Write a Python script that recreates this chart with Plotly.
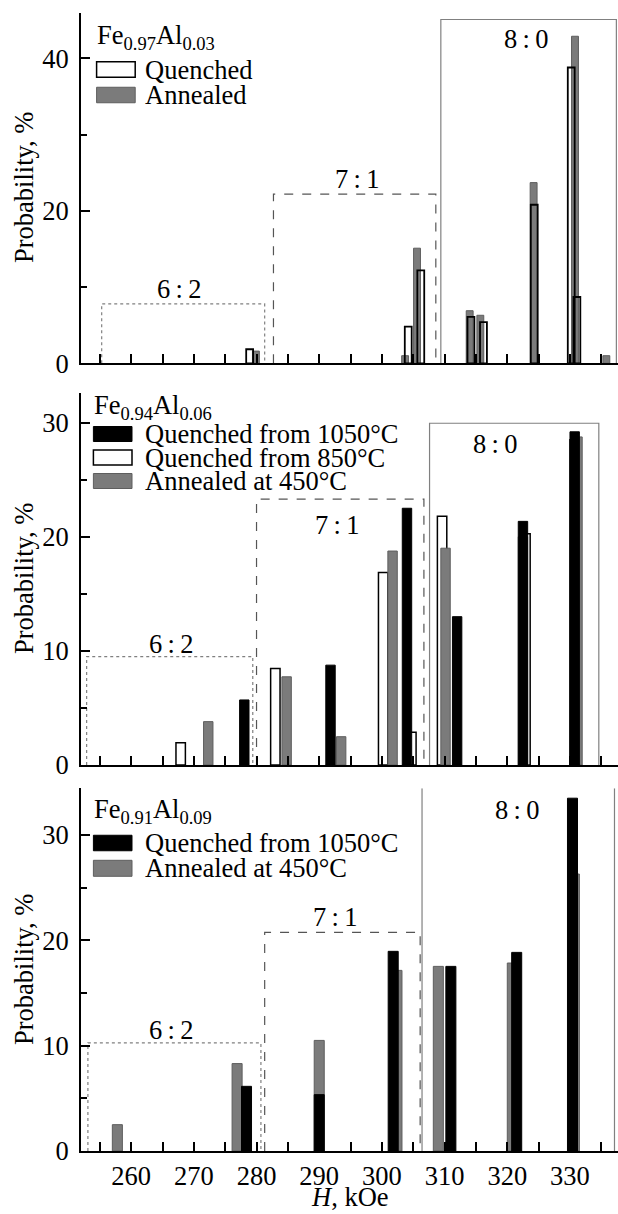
import plotly.graph_objects as go

FONT = "Liberation Serif"
FS = 26.5

# ---------------- data (H in kOe, probability in %) ----------------
# Panel 1: Fe0.97Al0.03
p1_h_annealed = [279.9, 303.7, 305.6, 314.0, 315.7, 324.2, 330.8, 335.8]
p1_v_annealed = [1.6, 1.0, 15.1, 6.9, 6.3, 23.7, 42.9, 1.0]
p1_h_quenched = [278.9, 304.2, 306.2, 314.2, 316.2, 324.3, 330.2, 331.1]
p1_v_quenched = [1.84, 4.8, 12.2, 6.1, 5.4, 20.8, 38.8, 8.7]

# Panel 2: Fe0.94Al0.06
p2_h_q1050 = [278.05, 291.8, 304.0, 312.0, 322.5, 330.75]
p2_v_q1050 = [5.7, 8.75, 22.5, 13.0, 21.35, 29.2]
p2_h_q850 = [267.9, 283.0, 300.2, 304.7, 309.6, 322.9, 330.75]
p2_v_q850 = [1.95, 8.46, 16.86, 2.86, 21.8, 20.27, 28.5]
p2_h_a450 = [272.3, 284.8, 293.5, 301.7, 310.15, 322.5, 331.2]
p2_v_a450 = [3.8, 7.73, 2.48, 18.75, 19.0, 20.0, 28.75]

# Panel 3: Fe0.91Al0.09
p3_h_q1050 = [278.4, 290.0, 301.8, 311.0, 321.5, 330.4]
p3_v_q1050 = [6.14, 5.35, 18.96, 17.53, 18.86, 33.5]
p3_h_a450 = [257.8, 276.9, 290.0, 302.4, 309.0, 320.8, 330.7]
p3_v_a450 = [2.5, 8.3, 10.5, 17.15, 17.53, 17.85, 26.3]

# configuration regions (left H, right H, top probability) and labels
region_labels = ["6\u2009:\u20092", "7\u2009:\u20091", "8\u2009:\u20090"]
p1_box_left = [255.3, 282.7, 309.4]
p1_box_right = [281.3, 308.6, 337.4]
p1_box_top = [7.8, 22.2, 45.1]
p1_label_h = [267.7, 296.0, 323.0]
p1_label_v = [9.8, 24.2, 42.5]

p2_box_left = [252.9, 280.0, 307.6]
p2_box_right = [279.4, 306.7, 334.6]
p2_box_top = [9.5, 23.3, 29.95]
p2_label_h = [266.3, 292.9, 318.0]
p2_label_v = [10.6, 21.0, 28.1]

p3_box_left = [253.1, 281.3, 306.4]
p3_box_right = [280.7, 306.1, 337.1]
p3_box_top = [10.26, 20.76, None]
p3_label_h = [266.3, 292.5, 321.5]
p3_label_v = [11.5, 22.2, 32.4]

x_ticks = [260, 270, 280, 290, 300, 310, 320, 330]
x_minor = [255, 265, 275, 285, 295, 305, 315, 325, 335]
x_range = [252.0, 337.66]

# ---------------- layout geometry ----------------
W, HT = 618, 1214
L, R, T, B = 81, 0, 13, 63
PW = W - L - R
PH = HT - T - B


def px(x):
    return (x - L) / PW


def py(y):
    return (HT - B - y) / PH


WHITE = "white"
GRAY = "#7b7b7b"
GRAY_LINE = "#5e5e5e"
BLACK = "black"

fig = go.Figure()


def add_bar(x, y, n, fill, line, lw, width):
    xa = "x" if n == 1 else f"x{n}"
    ya = "y" if n == 1 else f"y{n}"
    fig.add_trace(go.Bar(x=x, y=y, xaxis=xa, yaxis=ya, width=width,
                         marker=dict(color=fill, line=dict(color=line, width=lw)),
                         showlegend=False, hoverinfo="x+y"))


# panel 1
add_bar(p1_h_annealed, p1_v_annealed, 1, GRAY, GRAY_LINE, 1, 1.1)
add_bar(p1_h_quenched, p1_v_quenched, 1, "rgba(255,255,255,0)", BLACK, 1.8, 1.1)
# panel 2
add_bar(p2_h_q850, p2_v_q850, 2, WHITE, BLACK, 1.5, 1.5)
add_bar(p2_h_a450, p2_v_a450, 2, GRAY, GRAY_LINE, 1, 1.5)
add_bar(p2_h_q1050, p2_v_q1050, 2, BLACK, BLACK, 1, 1.5)
# panel 3
add_bar(p3_h_a450, p3_v_a450, 3, GRAY, GRAY_LINE, 1, 1.6)
add_bar(p3_h_q1050, p3_v_q1050, 3, BLACK, BLACK, 1, 1.6)

shapes = []
annotations = []
box_styles = [dict(color="#808080", width=1.2, dash="dot"),
              dict(color="#555555", width=1.2, dash="dash"),
              dict(color="#808080", width=1.2, dash="solid")]


def add_boxes(n, lefts, rights, tops, lab_h, lab_v, ymax):
    xr = "x" if n == 1 else f"x{n}"
    yr = "y" if n == 1 else f"y{n}"
    for i in range(3):
        x0, x1, top = lefts[i], rights[i], tops[i]
        st = box_styles[i]
        if top is None:
            for xx in (x0, x1):
                shapes.append(dict(type="line", xref=xr, yref=yr, x0=xx, x1=xx,
                                   y0=0, y1=ymax, line=st, layer="below"))
        else:
            shapes.append(dict(type="path", xref=xr, yref=yr,
                               path=f"M {x0},0 L {x0},{top} L {x1},{top} L {x1},0",
                               line=st, layer="below"))
        annotations.append(dict(xref=xr, yref=yr, x=lab_h[i], y=lab_v[i],
                                text=region_labels[i], showarrow=False,
                                font=dict(family=FONT, size=FS, color="black"),
                                xanchor="center", yanchor="middle"))


y1max, y2max, y3max = 45.95, 32.6, 34.44
add_boxes(1, p1_box_left, p1_box_right, p1_box_top, p1_label_h, p1_label_v, y1max)
add_boxes(2, p2_box_left, p2_box_right, p2_box_top, p2_label_h, p2_label_v, y2max)
add_boxes(3, p3_box_left, p3_box_right, p3_box_top, p3_label_h, p3_label_v, y3max)


def legend(title, title_x, title_y, items, sw_x0, sw_x1, text_x):
    annotations.append(dict(xref="paper", yref="paper", x=px(title_x), y=py(title_y),
                            text=title, showarrow=False, xanchor="left", yanchor="middle",
                            font=dict(family=FONT, size=FS, color="black")))
    for (label, fill, line, lw, yc, hh) in items:
        shapes.append(dict(type="rect", xref="paper", yref="paper",
                           x0=px(sw_x0), x1=px(sw_x1), y0=py(yc + hh / 2), y1=py(yc - hh / 2),
                           fillcolor=fill, line=dict(color=line, width=lw)))
        annotations.append(dict(xref="paper", yref="paper", x=px(text_x), y=py(yc),
                                text=label, showarrow=False, xanchor="left", yanchor="middle",
                                font=dict(family=FONT, size=FS, color="black")))


legend("Fe<sub>0.97</sub>Al<sub>0.03</sub>", 95, 37,
       [("Quenched", WHITE, BLACK, 1.5, 69.5, 15.5),
        ("Annealed", GRAY, GRAY_LINE, 1, 95.0, 15.5)],
       96.6, 135.2, 143)
legend("Fe<sub>0.94</sub>Al<sub>0.06</sub>", 92, 407,
       [("Quenched from 1050\u00b0C", BLACK, BLACK, 1, 434, 15),
        ("Quenched from 850\u00b0C", WHITE, BLACK, 1.5, 457.5, 15),
        ("Annealed at 450\u00b0C", GRAY, GRAY_LINE, 1, 481, 15)],
       93.4, 132, 143)
legend("Fe<sub>0.91</sub>Al<sub>0.09</sub>", 92, 811,
       [("Quenched from 1050\u00b0C", BLACK, BLACK, 1, 843, 15.5),
        ("Annealed at 450\u00b0C", GRAY, GRAY_LINE, 1, 868.3, 16)],
       93.4, 132, 143)

# axis titles
for yc in (188, 579, 970):
    annotations.append(dict(xref="paper", yref="paper", x=px(24), y=py(yc),
                            text="Probability, %", textangle=-90, showarrow=False,
                            xanchor="center", yanchor="middle",
                            font=dict(family=FONT, size=FS, color="black")))
annotations.append(dict(xref="paper", yref="paper", x=0.5, y=py(1214),
                        text="<i>H</i>, kOe", showarrow=False,
                        xanchor="center", yanchor="bottom",
                        font=dict(family=FONT, size=FS, color="black")))

tickfont = dict(family=FONT, size=FS, color="black")


def xaxis(anchor, show_labels):
    return dict(domain=[0, 1], range=x_range, anchor=anchor, showline=True,
                linecolor="black", linewidth=2, ticks="inside", tickvals=x_ticks,
                ticklen=9, tickwidth=1.5, tickcolor="black",
                minor=dict(tickvals=x_minor, ticks="inside", ticklen=9, tickwidth=1.5,
                           tickcolor="black", showgrid=False),
                showticklabels=show_labels, tickfont=tickfont, showgrid=False,
                zeroline=False, fixedrange=True, automargin=False)


def yaxis(anchor, dom, rng, major, minor):
    return dict(domain=dom, range=rng, anchor=anchor, showline=True,
                linecolor="black", linewidth=2, ticks="inside", tickvals=major,
                ticklen=9, tickwidth=1.5, tickcolor="black",
                minor=dict(tickvals=minor, ticks="inside", ticklen=6, tickwidth=1.5,
                           tickcolor="black", showgrid=False),
                tickfont=tickfont, showgrid=False, zeroline=False,
                ticklabelstandoff=5, fixedrange=True, automargin=False)


fig.update_layout(
    template="none",
    width=W, height=HT,
    margin=dict(l=L, r=R, t=T, b=B, pad=0, autoexpand=False),
    paper_bgcolor="white", plot_bgcolor="white",
    barmode="overlay", showlegend=False,
    font=dict(family=FONT, size=FS, color="black"),
    xaxis=xaxis("y", False),
    xaxis2=xaxis("y2", False),
    xaxis3=xaxis("y3", True),
    yaxis=yaxis("x", [py(363.3), 1.0], [0, y1max], [0, 20, 40], [10, 30]),
    yaxis2=yaxis("x2", [py(765), py(393)], [0, y2max], [0, 10, 20, 30], [5, 15, 25]),
    yaxis3=yaxis("x3", [0, py(788.3)], [0, y3max], [0, 10, 20, 30], [5, 15, 25]),
    shapes=shapes, annotations=annotations,
)

fig.write_html("out.html", config={"displayModeBar": False},
               post_script="document.body.style.margin='0';document.body.style.padding='0';")
